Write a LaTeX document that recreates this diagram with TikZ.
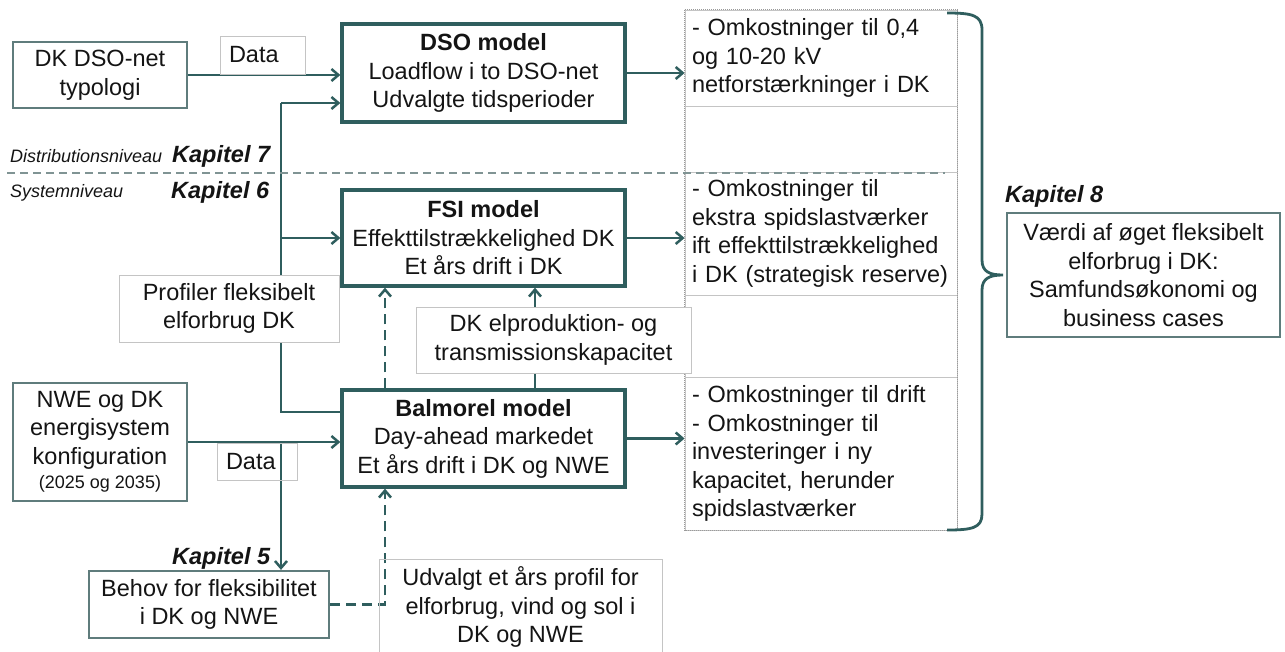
\documentclass[tikz,border=0pt]{standalone}
\usepackage{fontspec}
\setmainfont{Liberation Sans}
\usetikzlibrary{arrows.meta,backgrounds}
\definecolor{tealD}{HTML}{2F5E5E}
\definecolor{tealG}{HTML}{5F7C7C}
\definecolor{lgray}{HTML}{C4C4C4}
\definecolor{dgray}{HTML}{809494}
\definecolor{dotg}{HTML}{9A9A9A}
\definecolor{txt}{HTML}{141414}
\newcommand\mainfs{\fontsize{23.5}{28.5}\selectfont}
\newcommand\smallfs{\fontsize{18}{22}\selectfont}
\begin{document}
\begin{tikzpicture}[x=1pt,y=-1pt,
  every node/.style={font=\mainfs, text=txt, inner sep=0pt, align=center},
  modelbox/.style={draw=tealD, line width=3.3pt, fill=white, minimum width=283pt},
  inbox/.style={draw=tealG, line width=2.2pt, fill=white},
  lightbox/.style={draw=lgray, line width=1pt},
  colbox/.style={draw=lgray, line width=0.8pt, minimum width=272pt, text width=258pt, inner xsep=7pt, align=left},
  conn/.style={draw=tealD, line width=2.8pt},
  arr/.style={conn, -{Straight Barb[length=7pt,width=12pt,line width=2.5pt]}},
  darr/.style={arr, dash pattern=on 10pt off 6pt},
  kap/.style={font=\mainfs\bfseries\itshape, anchor=base west},
  lvl/.style={font=\smallfs\itshape, anchor=base west},
]
\useasboundingbox (0,0) rectangle (1285,651);

% right column
\node[colbox, minimum height=96pt] (r1) at (821,58) {- Omkostninger til 0,4\\og 10-20 kV\\netforstærkninger i DK};
\node[colbox, minimum height=66pt] (r2) at (821,139) {};
\node[colbox, minimum height=123pt] (r3) at (821,233.5) {- Omkostninger til\\ekstra spidslastværker\\ift effekttilstrækkelighed\\i DK (strategisk reserve)};
\node[colbox, minimum height=82pt] (r4) at (821,336) {};
\node[colbox, minimum height=153pt] (r5) at (821,453.5) {- Omkostninger til drift\\- Omkostninger til\\investeringer i ny\\kapacitet, herunder\\spidslastværker};
\draw[dotg, line width=1pt, dash pattern=on 1pt off 1pt] (r1.north west) rectangle (r5.south east);

% boxes
\node[inbox, minimum width=174pt, minimum height=66pt] (dsonet) at (100,75) {DK DSO-net\\typologi};
\node[lightbox, minimum height=38pt, text width=67pt, inner xsep=9pt, align=left] (data1) at (262.5,55) {Data};
\node[modelbox, minimum height=98pt] (dso) at (483.5,73) {\textbf{DSO model}\\Loadflow i to DSO-net\\Udvalgte tidsperioder};
\node[modelbox, minimum height=96pt] (fsi) at (483.5,238) {\textbf{FSI model}\\Effekttilstrækkelighed DK\\Et års drift i DK};
\node[modelbox, minimum height=97pt] (bal) at (483.5,438.5) {\textbf{Balmorel model}\\Day-ahead markedet\\Et års drift i DK og NWE};
\node[lightbox, fill=white, minimum width=220pt, minimum height=67pt] (prof) at (229,308.5) {Profiler fleksibelt\\elforbrug DK};
\node[lightbox, fill=white, minimum width=275pt, minimum height=66pt] (elprod) at (553.5,340) {DK elproduktion- og\\transmissionskapacitet};
\node[inbox, minimum width=174pt, minimum height=118pt] (nwe) at (100,442) {NWE og DK\\energisystem\\konfiguration\\[-4pt]{\smallfs(2025 og 2035)}};
\node[lightbox, minimum height=37pt, text width=62pt, inner xsep=9pt, align=left] (data2) at (257,461.5) {Data};
\node[inbox, minimum width=240pt, minimum height=67pt] (behov) at (209,604.5) {Behov for fleksibilitet\\i DK og NWE};
\node[lightbox, minimum width=283pt, minimum height=96pt] (udv) at (520.5,607) {Udvalgt et års profil for\\elforbrug, vind og sol i\\DK og NWE};
\node[inbox, minimum width=273pt, minimum height=124pt] (vaerdi) at (1143.5,275) {Værdi af øget fleksibelt\\elforbrug i DK:\\Samfundsøkonomi og\\business cases};

% labels
\node[lvl] (distr) at (10,162) {Distributionsniveau};
\node[kap] (k7) at (172,162) {Kapitel 7};
\node[lvl] (sys) at (10,197) {Systemniveau};
\node[kap] (k6) at (171,198) {Kapitel 6};
\node[kap] (k5) at (172,564) {Kapitel 5};
\node[kap] (k8) at (1005,202) {Kapitel 8};

% separator
\coordinate (sepL) at (7,173);
\coordinate (sepR) at (945,173);
\draw[dgray, line width=1.8pt, dash pattern=on 8pt off 5pt] (sepL) -- (sepR);

% brace
\draw[conn] (947,13) .. controls (972,13) and (982,15) .. (982,30) -- (982,260)
  .. controls (982,272) and (990,275) .. (1003,275)
  .. controls (990,275) and (982,278) .. (982,290) -- (982,514)
  .. controls (982,528) and (972,530) .. (947,530);

% connectors
\coordinate (jD) at (281,103);
\coordinate (jF) at (281,238);
\coordinate (jB) at (281,412);
\coordinate (jN) at (281,442);
\coordinate (dx) at (385,0);
\coordinate (ex) at (535,0);
\begin{scope}[on background layer]
\draw[arr] (dsonet.east) -- (dsonet.east -| dso.west);
\draw[conn] (jD) -- (jB) -- (jB -| bal.west);
\draw[arr] (jD) -- (jD -| dso.west);
\draw[arr] (jF) -- (jF -| fsi.west);
\draw[arr] (nwe.east) -- (nwe.east -| bal.west);
\draw[arr] (jN) -- (jN |- behov.north);
\draw[darr] (behov.east) -| (dx |- bal.south);
\draw[darr] (dx |- bal.north) -- (dx |- fsi.south);
\draw[arr] (ex |- bal.north) -- (ex |- fsi.south);
\draw[arr] (dso.east) -- (dso.east -| r1.west);
\draw[arr] (fsi.east) -- (fsi.east -| r3.west);
\draw[arr] (bal.east) -- (bal.east -| r5.west);
\end{scope}
\end{tikzpicture}
\end{document}
